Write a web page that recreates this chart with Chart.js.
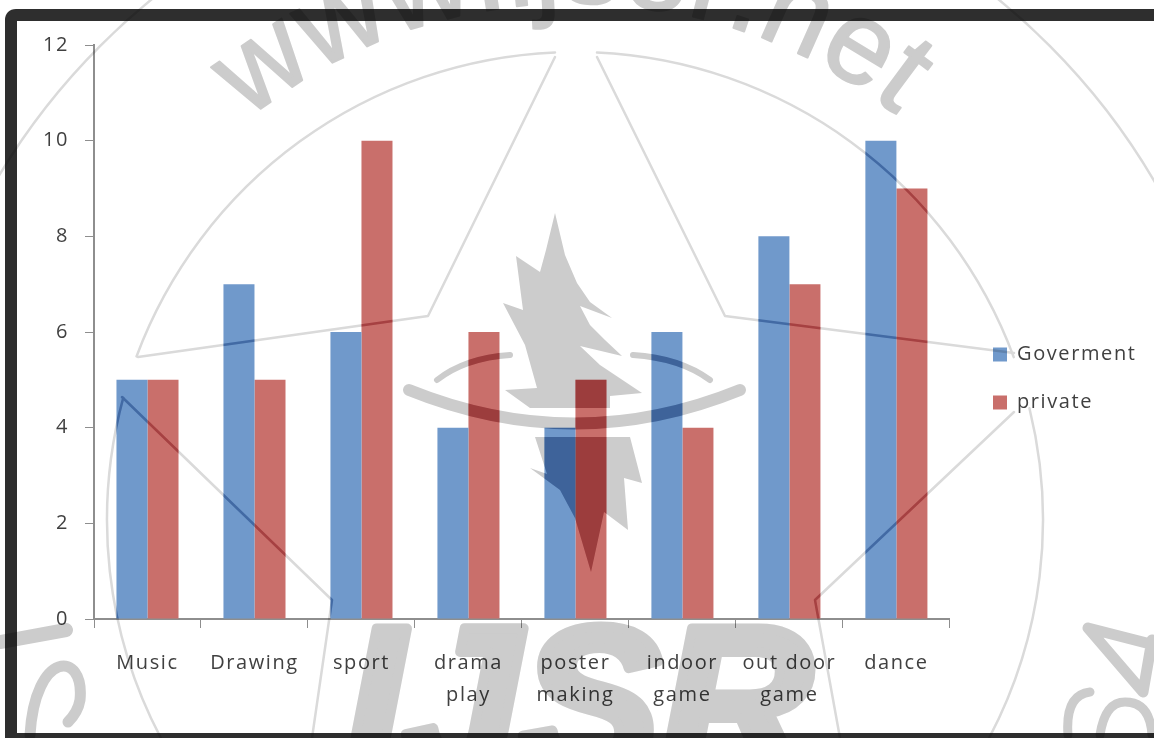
<!DOCTYPE html>
<html>
<head>
<meta charset="utf-8">
<style>
  html, body { margin: 0; padding: 0; background: #ffffff; }
  canvas { display: block; }
</style>
<script src="https://cdn.jsdelivr.net/npm/chart.js@4"></script>
</head>
<body>
<canvas id="chart" width="1154" height="738"></canvas>
<script>
const categories = ['Music', 'Drawing', 'sport', ['drama', 'play'], ['poster', 'making'], ['indoor', 'game'], ['out door', 'game'], 'dance'];
const goverment = [5, 7, 6, 4, 4, 6, 8, 10];
const privateSchools = [5, 5, 10, 6, 5, 4, 7, 9];
const yTicks = [0, 2, 4, 6, 8, 10, 12];

const FONT = '"Open Sans", sans-serif';
const TEXT = '#404040';
const AXIS = '#8e8e8e';

// Dark frame that runs around the chart, and the legend's place beside the plot.
const framePlugin = {
  id: 'frame',
  afterLayout(chart) {
    const legend = chart.legend;
    legend.left = 965;
    legend.right = 1154;
    legend.top -= 13;
    legend.bottom -= 13;
  },
  beforeDraw(chart) {
    const c = chart.ctx;
    c.save();
    c.strokeStyle = '#2e2e2e';
    c.lineWidth = 12;
    c.beginPath();
    c.moveTo(1160, 15);
    c.lineTo(16, 15);
    c.quadraticCurveTo(11, 15, 11, 20);
    c.lineTo(11, 738);
    c.stroke();
    c.fillStyle = '#2e2e2e';
    c.fillRect(5, 733, 1149, 5);
    c.restore();
    c.letterSpacing = '1.6px';
  }
};

// Stamp shapes: seal rings, star outline, flame and lettering, on their own layer.
function stampLayer(tone, lineTone) {
  const layer = document.createElement('canvas');
  layer.width = 1154;
  layer.height = 738;
  const c = layer.getContext('2d');
  c.fillStyle = tone;
  c.strokeStyle = lineTone;
  c.lineJoin = 'round';
  c.lineCap = 'round';
  const cx = 575, cy = 520, inner = 468, outer = 671;

  c.lineWidth = 2.5;
  c.beginPath();
  c.arc(cx, cy, outer, 0, Math.PI * 2);
  c.stroke();

  const a = (x, y) => Math.atan2(y - cy, x - cx);
  c.beginPath();
  c.arc(cx, cy, inner, a(138, 357), a(555, 52));
  c.stroke();
  c.beginPath();
  c.arc(cx, cy, inner, a(597, 52), a(1014, 357));
  c.stroke();
  c.beginPath();
  c.arc(cx, cy, inner, a(120, 397), a(161, 738), true);
  c.stroke();
  c.beginPath();
  c.arc(cx, cy, inner, a(1014, 412), a(990, 738));
  c.stroke();

  c.beginPath();
  c.moveTo(555, 57); c.lineTo(428, 316); c.lineTo(138, 357);
  c.moveTo(597, 57); c.lineTo(725, 316); c.lineTo(1014, 353);
  c.moveTo(122, 397); c.lineTo(332, 600); c.lineTo(312, 738);
  c.moveTo(1014, 412); c.lineTo(815, 600); c.lineTo(840, 738);
  c.stroke();

  c.strokeStyle = tone;

  // Upper flame
  c.beginPath();
  [[555, 213], [565, 255], [577, 283], [590, 302], [612, 318], [580, 306], [590, 325], [605, 340], [622, 356],
   [580, 346], [600, 365], [642, 393], [610, 396], [610, 408], [530, 408], [505, 390], [537, 388], [525, 345],
   [503, 303], [523, 310], [516, 256], [540, 272], [546, 250]].forEach(([x, y], i) => i ? c.lineTo(x, y) : c.moveTo(x, y));
  c.closePath();
  c.fill();

  // Lower flame
  c.beginPath();
  [[535, 437], [630, 437], [642, 483], [624, 478], [628, 530], [604, 512], [591, 572], [575, 518], [560, 490],
   [530, 468], [547, 474]].forEach(([x, y], i) => i ? c.lineTo(x, y) : c.moveTo(x, y));
  c.closePath();
  c.fill();

  // Crescent under the flame
  c.lineWidth = 12;
  c.beginPath();
  c.moveTo(409, 390);
  c.quadraticCurveTo(575, 457, 740, 390);
  c.stroke();

  c.lineWidth = 6;
  c.beginPath();
  c.moveTo(437, 380); c.quadraticCurveTo(465, 358, 510, 355);
  c.moveTo(633, 355); c.quadraticCurveTo(680, 358, 710, 380);
  c.stroke();

  // Corner fragments of the seal's ring lettering
  c.lineWidth = 11;
  c.beginPath();
  c.moveTo(30, 735); c.bezierCurveTo(35, 650, 85, 650, 80, 700); c.quadraticCurveTo(78, 712, 68, 722);
  c.moveTo(1088, 628); c.lineTo(1154, 645);
  c.moveTo(1088, 628); c.lineTo(1143, 692); c.lineTo(1152, 640);
  c.stroke();
  c.lineWidth = 14;
  c.beginPath();
  c.moveTo(0, 642); c.lineTo(66, 630);
  c.stroke();
  c.lineWidth = 9;
  c.beginPath();
  c.moveTo(1090, 692); c.quadraticCurveTo(1065, 695, 1068, 735);
  c.moveTo(1100, 735); c.quadraticCurveTo(1105, 702, 1125, 702); c.quadraticCurveTo(1150, 702, 1152, 735);
  c.stroke();

  // Lettering on the arc
  c.textAlign = 'left';
  c.textBaseline = 'alphabetic';
  c.font = '118px "Liberation Sans", sans-serif';
  c.lineWidth = 2;
  const word = 'www.ijser.net';
  const radius = 517;
  const total = c.measureText(word).width;
  let angle = -total / radius / 2 - 0.02;
  for (const ch of word) {
    const w = c.measureText(ch).width;
    c.save();
    c.translate(cx, cy);
    c.rotate(angle + w / radius / 2);
    c.fillText(ch, -w / 2, -radius);
    c.strokeText(ch, -w / 2, -radius);
    c.restore();
    angle += w / radius;
  }

  c.font = 'italic bold 210px "Liberation Sans", sans-serif';
  c.lineWidth = 10;
  c.fillText('IJSR', 345, 773);
  c.strokeText('IJSR', 345, 773);
  return layer;
}

const barTints = ['#b0cff2', '#f7adb5'];

const stampPlugin = {
  id: 'stamp',
  afterDraw(chart) {
    const c = chart.ctx;
    c.save();
    c.globalCompositeOperation = 'multiply';
    c.drawImage(stampLayer('#cccccc', '#dadada'), 0, 0);
    c.restore();
    // The stamp reads darker across the bars, in each bar's own hue.
    chart.data.datasets.forEach((_, i) => {
      c.save();
      c.globalCompositeOperation = 'multiply';
      c.beginPath();
      chart.getDatasetMeta(i).data.forEach(bar => {
        c.rect(bar.x - bar.width / 2, bar.y, bar.width, bar.base - bar.y);
      });
      c.clip();
      c.drawImage(stampLayer(barTints[i], barTints[i]), 0, 0);
      c.restore();
    });
  }
};

new Chart(document.getElementById('chart'), {
  type: 'bar',
  data: {
    labels: categories,
    datasets: [
      { label: 'Goverment', data: goverment, backgroundColor: '#7099cb' },
      { label: 'private', data: privateSchools, backgroundColor: '#c96f6b' }
    ]
  },
  plugins: [framePlugin, stampPlugin],
  options: {
    responsive: false,
    animation: false,
    layout: { padding: { top: 45, left: 0, right: 37, bottom: 0 } },
    datasets: { bar: { categoryPercentage: 0.58, barPercentage: 1 } },
    scales: {
      x: {
        afterFit(scale) { scale.height = 119; },
        grid: { drawOnChartArea: false, drawTicks: true, tickLength: 9, color: AXIS, offset: true },
        border: { color: AXIS, width: 2 },
        ticks: { color: TEXT, font: { family: FONT, size: 20, lineHeight: 1.6 }, padding: 19, maxRotation: 0, autoSkip: false }
      },
      y: {
        min: 0,
        max: 12,
        afterFit(scale) { scale.width = 94; },
        afterBuildTicks(scale) { scale.ticks = yTicks.map(value => ({ value })); },
        grid: { drawOnChartArea: false, drawTicks: true, tickLength: 9, color: AXIS },
        border: { color: AXIS, width: 2 },
        ticks: { color: TEXT, font: { family: FONT, size: 20 }, padding: 16 }
      }
    },
    plugins: {
      title: { display: false },
      tooltip: { enabled: false },
      legend: {
        position: 'right',
        labels: { color: TEXT, font: { family: FONT, size: 20 }, boxWidth: 14, boxHeight: 14, padding: 28 }
      }
    }
  }
});
</script>
</body>
</html>
